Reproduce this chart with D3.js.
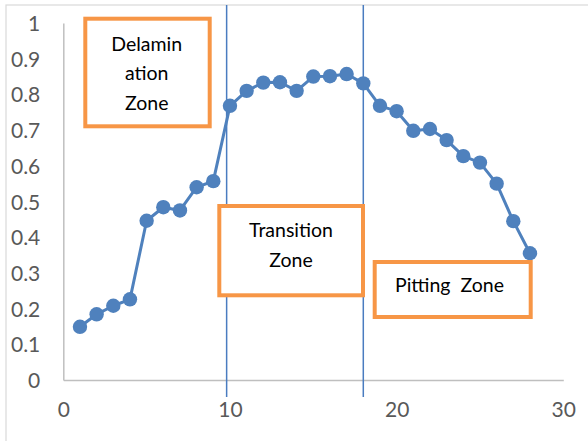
<!DOCTYPE html>
<html>
<head>
<meta charset="utf-8">
<script src="https://cdn.jsdelivr.net/npm/d3@7"></script>
<style>
  html, body { margin: 0; padding: 0; background: #fff; }
  svg { display: block; font-family: Lato, "Open Sans", sans-serif; }
  text { white-space: pre; }
</style>
</head>
<body>
<svg id="chart" width="588" height="441"></svg>
<script>
// Measurement positions (x) and values (y)
const positions = [1, 2, 3, 4, 5, 6, 7, 8, 9, 10, 11, 12, 13, 14, 15, 16, 17, 18, 19, 20, 21, 22, 23, 24, 25, 26, 27, 28];
const values = [0.149, 0.184, 0.208, 0.226, 0.446, 0.484, 0.475, 0.54, 0.557, 0.768, 0.81, 0.833, 0.834, 0.81, 0.85, 0.851, 0.857, 0.831, 0.768, 0.753, 0.698, 0.703, 0.672, 0.627, 0.609, 0.55, 0.445, 0.355];

// Axis ticks
const xTicks = [0, 10, 20, 30];
const yTicks = [0, 0.1, 0.2, 0.3, 0.4, 0.5, 0.6, 0.7, 0.8, 0.9, 1];

// Zone boundaries (x) and zone labels
const boundaries = [9.8, 18];
const zoneLabels = [["Delamin", "ation", "Zone"], ["Transition", "Zone"], ["Pitting  Zone"]];

const svg = d3.select("#chart");
const blue = "#4f81bd";
const orange = "#f79646";

const x = d3.scaleLinear().domain([0, 30]).range([63.3, 563.3]);
const y = d3.scaleLinear().domain([0, 1]).range([380, 23]);

// Chart frame
svg.append("rect")
  .attr("x", 6).attr("y", 5).attr("width", 640).attr("height", 500)
  .attr("fill", "#fff").attr("stroke", "#d9d9d9").attr("stroke-width", 1.2);

// Axes
const xAxis = svg.append("g").attr("transform", `translate(0,${y(0)})`)
  .call(d3.axisBottom(x).tickValues(xTicks).tickSize(0).tickPadding(0).tickFormat(d3.format("d")));
xAxis.select(".domain").attr("stroke", "#bfbfbf").attr("stroke-width", 1.5);
xAxis.selectAll("text")
  .attr("y", 36.5).attr("dy", 0)
  .attr("fill", "#595959").attr("font-size", 21).attr("font-family", "Lato, sans-serif");

const yAxis = svg.append("g").attr("transform", `translate(${x(0)},0)`)
  .call(d3.axisLeft(y).tickValues(yTicks).tickSize(0).tickPadding(0).tickFormat(d => d === 0 ? "0" : d === 1 ? "1" : d3.format(".1f")(d)));
yAxis.select(".domain").attr("stroke", "#bfbfbf").attr("stroke-width", 1.5);
yAxis.selectAll("text")
  .attr("x", -23).attr("dy", "0.36em")
  .attr("fill", "#595959").attr("font-size", 21).attr("font-family", "Lato, sans-serif");

// Zone boundary lines
svg.selectAll("line.boundary").data(boundaries).join("line")
  .attr("class", "boundary")
  .attr("x1", d => x(d)).attr("x2", d => x(d))
  .attr("y1", 5).attr("y2", 397)
  .attr("stroke", "#4a7cc0").attr("stroke-width", 1.5);

// Series line and markers
const pts = positions.map((p, i) => [p, values[i]]);
svg.append("path")
  .datum(pts)
  .attr("fill", "none").attr("stroke", blue).attr("stroke-width", 3)
  .attr("stroke-linejoin", "round")
  .attr("d", d3.line().x(d => x(d[0])).y(d => y(d[1])));

svg.selectAll("circle.pt").data(pts).join("circle")
  .attr("class", "pt")
  .attr("cx", d => x(d[0])).attr("cy", d => y(d[1]))
  .attr("r", 7.2).attr("fill", blue);

// Zone label boxes
const boxes = [
  { r: [85.3, 18.7, 124.4, 107.6], cx: 146.7, lines: zoneLabels[0], base: 50.7, anchor: "middle" },
  { r: [219.3, 206, 143.7, 89.3], cx: 291, lines: zoneLabels[1], base: 237.3, anchor: "middle" },
  { r: [374.7, 262, 156, 55], cx: 395, lines: zoneLabels[2], base: 291.7, anchor: "start" }
];
const bg = svg.selectAll("g.zone").data(boxes).join("g").attr("class", "zone");
bg.append("rect")
  .attr("x", d => d.r[0]).attr("y", d => d.r[1])
  .attr("width", d => d.r[2]).attr("height", d => d.r[3])
  .attr("fill", "#fff").attr("stroke", orange).attr("stroke-width", 4);
bg.each(function (d) {
  d3.select(this).selectAll("text").data(d.lines).join("text")
    .attr("x", d.cx).attr("y", (t, i) => d.base + i * 29.7)
    .attr("text-anchor", d.anchor)
    .attr("font-size", 19.5).attr("fill", "#000")
    .text(t => t);
});
</script>
</body>
</html>
